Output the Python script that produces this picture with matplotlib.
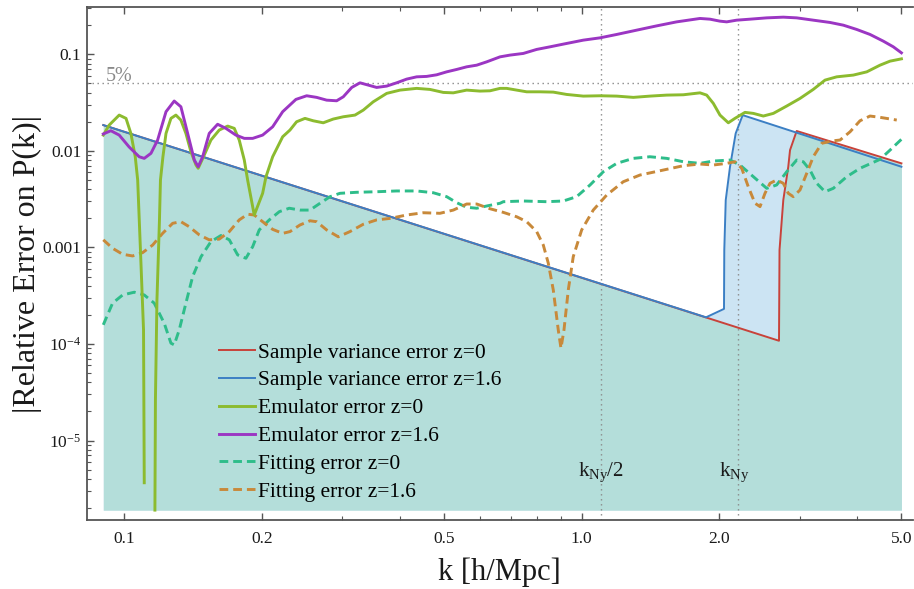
import numpy as np
import matplotlib
matplotlib.use("Agg")
import matplotlib.pyplot as plt
from matplotlib.ticker import FixedLocator, FixedFormatter, NullFormatter

plt.rcParams["font.family"] = ["Liberation Serif", "DejaVu Serif"]
plt.rcParams["mathtext.fontset"] = "custom"
plt.rcParams["mathtext.rm"] = "Liberation Serif"
plt.rcParams["mathtext.it"] = "Liberation Serif:italic"

INK, SPINE, DOT = "#1a1a1a", "#555555", "#8a8a8a"
RED, BLUE, GREEN, PURPLE, TEAL, ORANGE = (
    "#c8423a", "#3b7fc4", "#8cbb2f", "#9b36c3", "#2ebd8a", "#c8893a")
FILL0, FILL1 = "#b4deda", "#cce4f3"

# sample variance error (straight k^-1.5 runs with the jump past the Nyquist scale)
sv0_k = [0.090, 2.70, 2.707, 2.759, 2.829, 2.854, 2.951, 5.0]
sv0_e = [0.01853, 1.08e-4, 9.42e-4, 3.10e-3, 6.86e-3, 0.0102, 0.0161, 7.44e-3]
sv1_k = [0.090, 1.87, 2.047, 2.050, 2.065, 2.110, 2.171, 2.249, 5.0]
sv1_e = [0.01853, 1.89e-4, 2.31e-4, 9.42e-4, 3.10e-3, 6.86e-3, 0.0152, 0.0235, 6.86e-3]
fill_floor = 1.9e-6

# emulator error
em0_k = [0.090, 0.0927, 0.0975, 0.1009, 0.1034, 0.1057, 0.1070, 0.1085, 0.1102, 0.1106, np.nan,
         0.1167, 0.1170, 0.1179, 0.1194, 0.1200, 0.1215, 0.1234, 0.1265, 0.1297, 0.1330, 0.1364,
         0.1399, 0.1435, 0.1451, 0.1496, 0.1547, 0.1613, 0.1683, 0.1740, 0.1784, 0.1830, 0.1861,
         0.1924, 0.2007, 0.2041, 0.2111, 0.2220, 0.2303, 0.2381, 0.2484, 0.2589, 0.2723, 0.2863,
         0.3012, 0.3195, 0.3331, 0.3502, 0.3748, 0.4008, 0.4358, 0.4660, 0.4983, 0.5240, 0.5605,
         0.5992, 0.6302, 0.6630, 0.6855, 0.7210, 0.7582, 0.8105, 0.8668, 0.9273, 1.008, 1.096,
         1.193, 1.297, 1.410, 1.534, 1.668, 1.814, 1.876, 1.940, 2.006, 2.092, 2.163, 2.275,
         2.373, 2.495, 2.624, 2.807, 3.001, 3.208, 3.404, 3.610, 3.925, 4.200, 4.489, 4.721, 5.00]
em0_e = [0.0146, 0.01853, 0.02353, 0.02175, 0.0152, 0.00871, 0.0050, 9.42e-4, 1.40e-4, 3.65e-6, np.nan,
         1.9e-6, 2.64e-5, 2.86e-4, 1.93e-3, 0.0050, 0.00871, 0.0152, 0.02175, 0.02353, 0.02089, 0.0152,
         0.00981, 0.00715, 0.00661, 0.00907, 0.01297, 0.01646, 0.0181, 0.01714, 0.01297, 0.00805, 0.0050,
         2.17e-3, 3.64e-3, 0.0054, 0.00871, 0.01403, 0.01646, 0.02006, 0.02175, 0.02054, 0.01958, 0.0214,
         0.0226, 0.02353, 0.0265, 0.0323, 0.0395, 0.0427, 0.0445, 0.0434, 0.0404, 0.0400, 0.0427,
         0.0417, 0.0420, 0.0445, 0.0445, 0.0427, 0.0410, 0.0410, 0.0407, 0.0385, 0.0370, 0.0373,
         0.0370, 0.0359, 0.0370, 0.0379, 0.0382, 0.0400, 0.0379, 0.0311, 0.02353, 0.01958, 0.02175, 0.0251,
         0.0245, 0.0230, 0.0245, 0.0292, 0.0350, 0.0434, 0.0542, 0.0586, 0.0611, 0.0660, 0.0774, 0.0852, 0.0900]
em1_k = [0.090, 0.0935, 0.0975, 0.1025, 0.1078, 0.1106, 0.1144, 0.1183, 0.1234, 0.1286, 0.1330, 0.1376,
         0.1423, 0.1451, 0.1484, 0.1534, 0.1600, 0.1668, 0.1754, 0.1830, 0.1909, 0.2007, 0.2111, 0.2220,
         0.2373, 0.2505, 0.2634, 0.2770, 0.2913, 0.3012, 0.3143, 0.3276, 0.3416, 0.3563, 0.3748, 0.3940,
         0.4144, 0.4358, 0.4582, 0.4819, 0.5068, 0.5331, 0.5605, 0.5895, 0.6200, 0.6630, 0.6970, 0.7454,
         0.7973, 0.8525, 0.9116, 1.008, 1.096, 1.193, 1.319, 1.459, 1.613, 1.814, 1.908, 2.006, 2.075,
         2.182, 2.333, 2.538, 2.759, 2.951, 3.208, 3.491, 3.732, 3.992, 4.269, 4.564, 4.800, 5.00]
em1_e = [0.0150, 0.0162, 0.0146, 0.0110, 0.00871, 0.00838, 0.00945, 0.01297, 0.0255, 0.0329, 0.0287, 0.0152,
         0.00805, 0.00686, 0.00871, 0.0152, 0.0189, 0.01714, 0.0146, 0.0135, 0.0135, 0.0146, 0.0178, 0.0255,
         0.0342, 0.0373, 0.0359, 0.0336, 0.0331, 0.0364, 0.0455, 0.0508, 0.0481, 0.0455, 0.0470, 0.0508,
         0.0555, 0.0586, 0.0592, 0.0615, 0.0660, 0.0699, 0.0744, 0.0774, 0.0838, 0.0944, 0.0984, 0.1024,
         0.1127, 0.1199, 0.1279, 0.1406, 0.1485, 0.1611, 0.1785, 0.1977, 0.2175, 0.2359, 0.2319, 0.2212, 0.2175,
         0.2265, 0.2319, 0.2393, 0.2433, 0.2393, 0.2265, 0.2144, 0.2010, 0.1815, 0.1611, 0.1373, 0.1199, 0.1039]

# fitting error
fit0_k = [0.090, 0.0943, 0.0992, 0.1052, 0.1106, 0.1163, 0.1223, 0.1265, 0.1286, 0.1319, 0.1364, 0.1411,
          0.1472, 0.1547, 0.1627, 0.1697, 0.1770, 0.1845, 0.1909, 0.1973, 0.2075, 0.2183, 0.2295, 0.2422,
          0.2547, 0.2679, 0.2818, 0.2962, 0.3222, 0.3563, 0.3940, 0.4358, 0.4738, 0.5068, 0.5331, 0.5605,
          0.5895, 0.6200, 0.6630, 0.6741, 0.7454, 0.8385, 0.9116, 0.975, 1.043, 1.115, 1.193, 1.297, 1.410,
          1.534, 1.668, 1.814, 1.940, 2.110, 2.219, 2.373, 2.538, 2.668, 2.807, 2.951, 3.051, 3.156, 3.265,
          3.404, 3.549, 3.797, 4.059, 4.489, 4.721, 5.00]
fit0_e = [1.58e-4, 2.65e-4, 3.22e-4, 3.44e-4, 3.22e-4, 2.65e-4, 1.64e-4, 1.02e-4, 9.79e-5, 1.40e-4, 2.65e-4, 4.99e-4,
          8.03e-4, 1.15e-3, 1.33e-3, 1.20e-3, 8.37e-4, 7.73e-4, 1.02e-3, 1.52e-3, 1.93e-3, 2.35e-3, 2.55e-3, 2.44e-3,
          2.44e-3, 2.87e-3, 3.36e-3, 3.64e-3, 3.73e-3, 3.78e-3, 3.85e-3, 3.85e-3, 3.69e-3, 3.36e-3, 2.91e-3, 2.61e-3,
          2.55e-3, 2.69e-3, 2.87e-3, 2.98e-3, 3.03e-3, 2.98e-3, 3.03e-3, 3.36e-3, 4.44e-3, 6.09e-3, 7.44e-3, 8.38e-3, 8.71e-3,
          8.38e-3, 7.73e-3, 7.44e-3, 7.86e-3, 8.05e-3, 7.15e-3, 5.41e-3, 4.10e-3, 4.44e-3, 6.09e-3, 8.05e-3, 7.73e-3, 6.34e-3, 4.62e-3,
          3.78e-3, 4.10e-3, 5.41e-3, 6.61e-3, 8.18e-3, 0.0102, 0.0132]
fit1_k = [0.090, 0.0943, 0.0992, 0.1043, 0.1097, 0.1154, 0.1213, 0.1276, 0.1330, 0.1387, 0.1459, 0.1534,
          0.1613, 0.1697, 0.1784, 0.1861, 0.1924, 0.2007, 0.2111, 0.2220, 0.2303, 0.2422, 0.2547, 0.2634,
          0.2770, 0.2937, 0.3114, 0.3331, 0.3563, 0.3810, 0.4144, 0.4505, 0.4900, 0.5240, 0.5605, 0.5895,
          0.6302, 0.6741, 0.7210, 0.7582, 0.7973, 0.8243, 0.8454, 0.8668, 0.8888, 0.9010, 0.9148, 0.9348,
          0.9585, 1.000, 1.060, 1.134, 1.233, 1.341, 1.508, 1.668, 1.814, 1.940, 2.075, 2.163, 2.238, 2.313,
          2.393, 2.454, 2.516, 2.580, 2.668, 2.759, 2.829, 2.901, 3.001, 3.104, 3.208, 3.348, 3.549, 3.671,
          3.861, 4.059, 4.269, 4.489, 4.884]
fit1_e = [1.20e-3, 9.81e-4, 8.50e-4, 8.17e-4, 8.84e-4, 1.06e-3, 1.40e-3, 1.78e-3, 1.85e-3, 1.64e-3, 1.35e-3, 1.20e-3,
          1.22e-3, 1.46e-3, 1.93e-3, 2.21e-3, 2.17e-3, 1.85e-3, 1.54e-3, 1.40e-3, 1.46e-3, 1.71e-3, 1.89e-3, 1.85e-3,
          1.52e-3, 1.29e-3, 1.46e-3, 1.74e-3, 1.93e-3, 2.00e-3, 2.17e-3, 2.29e-3, 2.26e-3, 2.44e-3, 2.82e-3, 2.82e-3,
          2.52e-3, 2.31e-3, 2.08e-3, 1.85e-3, 1.46e-3, 1.06e-3, 6.86e-4, 3.63e-4, 1.40e-4, 9.05e-5, 1.40e-4, 3.63e-4,
          8.03e-4, 1.52e-3, 2.44e-3, 3.49e-3, 4.80e-3, 5.63e-3, 6.34e-3, 7.03e-3, 7.32e-3, 7.15e-3, 7.44e-3, 7.73e-3, 6.61e-3, 4.26e-3,
          2.87e-3, 2.65e-3, 3.64e-3, 4.62e-3, 5.00e-3, 4.62e-3, 3.64e-3, 3.36e-3, 3.94e-3, 5.86e-3, 8.71e-3, 0.0120, 0.01275, 0.01297,
          0.0158, 0.02054, 0.0230, 0.0223, 0.0209]

k_ny = 2.2
five_pct = 0.05
x_ticks = [0.1, 0.2, 0.5, 1.0, 2.0, 5.0]
x_ticklabels = ["0.1", "0.2", "0.5", "1.0", "2.0", "5.0"]
x_minor = [0.3, 0.4, 0.6, 0.7, 0.8, 0.9, 3.0, 4.0]
y_ticks = [1e-5, 1e-4, 1e-3, 1e-2, 1e-1]
y_ticklabels = [r"$10^{-5}$", r"$10^{-4}$", "0.001", "0.01", "0.1"]
labels = ["Sample variance error z=0", "Sample variance error z=1.6", "Emulator error z=0",
          "Emulator error z=1.6", "Fitting error z=0", "Fitting error z=1.6"]

fig = plt.figure(figsize=(9.14, 5.89), dpi=100)
ax = fig.add_axes([0.0949, 0.1171, 0.904, 0.871])
ax.set_xscale("log"); ax.set_yscale("log")
ax.set_xlim(0.0828, 5.30); ax.set_ylim(1.5e-6, 0.31)

ax.fill_between(sv1_k, sv1_e, fill_floor, color=FILL1, lw=0, zorder=1)
ax.fill_between(sv0_k, sv0_e, fill_floor, color=FILL0, lw=0, zorder=1.1)

dots = (0, (1, 2.6))
ax.axhline(five_pct, color=DOT, lw=1, ls=dots, zorder=2)
ax.axvline(k_ny / 2, color=DOT, lw=1, ls=dots, zorder=2)
ax.axvline(k_ny, color=DOT, lw=1, ls=dots, zorder=2)

h_sv0, = ax.plot(sv0_k, sv0_e, color=RED, lw=1.4, zorder=3)
h_sv1, = ax.plot(sv1_k, sv1_e, color=BLUE, lw=1.4, zorder=3.1)
dash = (0, (3.0, 1.7))
h_f0, = ax.plot(fit0_k, fit0_e, color=TEAL, lw=2.1, ls=dash, zorder=4)
h_f1, = ax.plot(fit1_k, fit1_e, color=ORANGE, lw=2.1, ls=dash, zorder=4.1)
h_e0, = ax.plot(em0_k, em0_e, color=GREEN, lw=2.1, zorder=5)
h_e1, = ax.plot(em1_k, em1_e, color=PURPLE, lw=2.1, zorder=5.1)

ax.text(0.0912, five_pct * 1.07, "5%", color=DOT, fontsize=14.5, ha="left", va="baseline")
ax.text(k_ny / 2, 4.24e-6, r"$\mathrm{k_{Ny}/2}$", color=INK, fontsize=15, ha="center", va="baseline")
ax.text(2.16, 4.24e-6, r"$\mathrm{k_{Ny}}$", color=INK, fontsize=15, ha="center", va="baseline")

ax.legend([h_sv0, h_sv1, h_e0, h_e1, h_f0, h_f1], labels, loc="upper left",
          bbox_to_anchor=(0.160, 0.346), frameon=False, fontsize=15.5, borderpad=0,
          borderaxespad=0, handlelength=1.67, handletextpad=0.15, labelspacing=0.36)

ax.xaxis.set_major_locator(FixedLocator(x_ticks))
ax.xaxis.set_major_formatter(FixedFormatter(x_ticklabels))
ax.xaxis.set_minor_locator(FixedLocator(x_minor))
ax.xaxis.set_minor_formatter(NullFormatter())
ax.yaxis.set_major_locator(FixedLocator(y_ticks))
ax.yaxis.set_major_formatter(FixedFormatter(y_ticklabels))
ax.tick_params(which="both", direction="in", top=True, right=False, colors=SPINE,
               labelcolor=INK, labelsize=12.5)
ax.tick_params(which="major", length=5, width=1)
ax.tick_params(which="minor", length=3, width=0.8)
ax.tick_params(axis="x", which="both", pad=8)
ax.tick_params(axis="y", which="both", pad=4)
for side in ("left", "bottom", "top"):
    ax.spines[side].set_color(SPINE); ax.spines[side].set_linewidth(1.3)
ax.spines["right"].set_visible(False)

ax.set_xlabel("k [h/Mpc]", fontsize=22, color=INK, va="center")
ax.xaxis.set_label_coords(0.5, -0.102)
ax.set_ylabel("|Relative Error on P(k)|", fontsize=23, color=INK, va="center")
ax.yaxis.set_label_coords(-0.072, 0.5)

fig.savefig("out.png", dpi=100)
